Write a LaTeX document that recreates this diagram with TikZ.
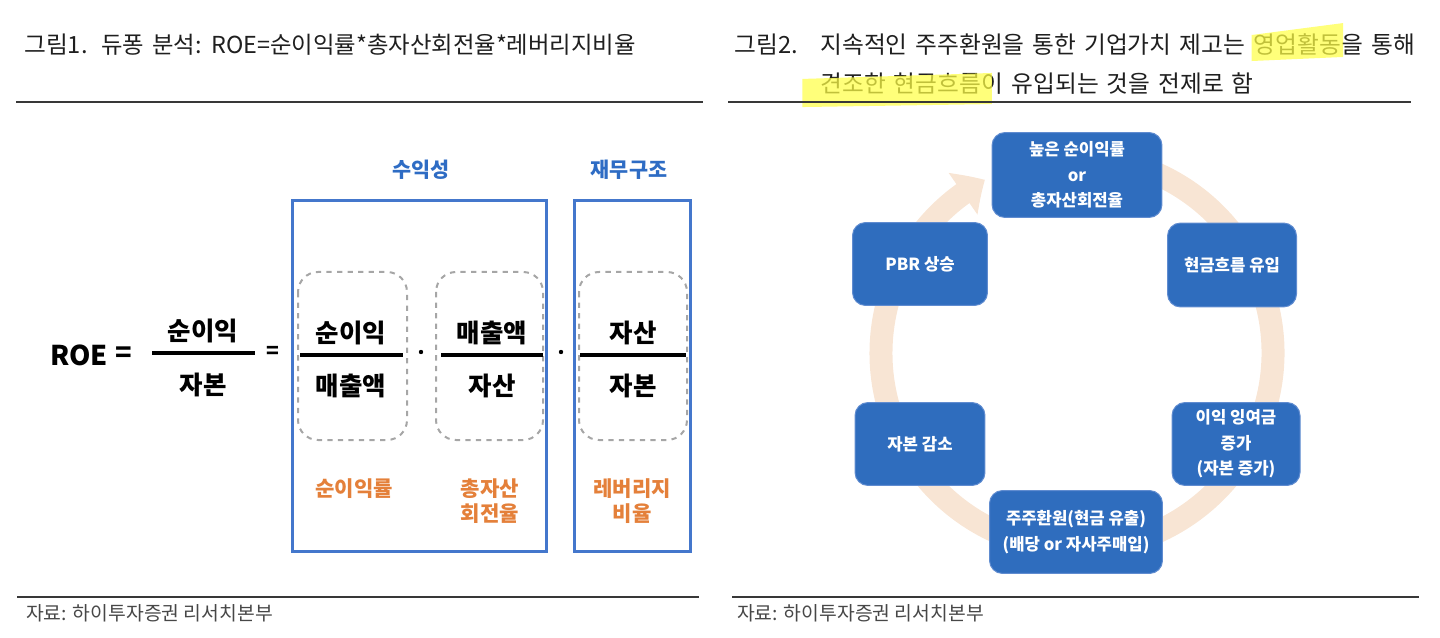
\documentclass[tikz,border=0pt]{standalone}
\usepackage{fontspec}
\setmainfont{Noto Sans CJK KR}
\newfontfamily\titlefont{Noto Sans CJK KR}[WordSpace=1.5]
\usetikzlibrary{arrows.meta,bending}

\definecolor{figFrame}{RGB}{68,119,204}
\definecolor{figHead} {RGB}{46,108,196}
\definecolor{figOrange}{RGB}{228,128,58}
\definecolor{figDash} {RGB}{166,166,166}
\definecolor{figBox}  {RGB}{47,109,190}
\definecolor{figEdge} {RGB}{96,140,208}
\definecolor{figRing} {RGB}{248,229,212}
\definecolor{figMark} {RGB}{255,255,70}
\colorlet{figRule}{black!78}
\colorlet{figText}{black!88}

\begin{document}
\begin{tikzpicture}[x=0.02cm, y=-0.02cm,
        ttl/.style={anchor=base west, inner sep=0pt, figText,
              font=\titlefont\fontsize{13.5}{16}\selectfont}]
        \useasboundingbox (0,0) rectangle (1440,638);
        % titles and rules
        \node[ttl] (fig1) at (24,54){그림1.};
        \node[ttl, font=\titlefont\fontsize{13.3}{16}\selectfont]
              (title1) at (101,54){듀퐁 분석: ROE=순이익률*총자산회전율*레버리지비율};
        \node[ttl] (fig2) at (734,54){그림2.};
        \node[ttl] (title2a) at (820,54){지속적인 주주환원을 통한 기업가치 제고는};
        \node[ttl] (mark1) at ([xshift=4.5pt]title2a.base east){영업활동};
        \node[ttl] (title2b) at (mark1.base east){을 통해};
        \node[ttl] (mark2) at (820,93){견조한 현금흐름};
        \node[ttl] (title2c) at (mark2.base east){이 유입되는 것을 전제로 함};
        \fill[figMark, opacity=0.72]
              ([xshift=-1pt, yshift=10.8pt]mark1.base west)
              --([xshift=1pt, yshift=17.6pt]mark1.base east)
              --([xshift=1pt, yshift=-1.7pt]mark1.base east)
              --([xshift=-1pt, yshift=-4pt]mark1.base west)--cycle;
        \fill[figMark, opacity=0.72]
              ([xshift=-10pt, yshift=8pt]mark2.base west)
              --([xshift=6pt, yshift=11.4pt]mark2.base east)
              --([xshift=6pt, yshift=-6.3pt]mark2.base east)
              --([xshift=-10pt, yshift=-8pt]mark2.base west)--cycle;
        \draw[figRule, line width=0.05cm](16,102)--(703,102);
        \draw[figRule, line width=0.05cm](728,102)--(1411,102);
        \draw[figRule, line width=0.05cm](17,597)--(699,597);
        \draw[figRule, line width=0.05cm](732,597)--(1419,597);
        \node[anchor=west, black!72, font=\fontsize{11}{13}\selectfont]
              (src1) at (20,613){자료: 하이투자증권 리서치본부};
        \node[anchor=west, black!72, font=\fontsize{11}{13}\selectfont]
              (src2) at (731,613){자료: 하이투자증권 리서치본부};

        % left: DuPont
        \draw[figFrame, line width=0.06cm](292,201) rectangle (546,551);
        \draw[figFrame, line width=0.06cm](574,201) rectangle (690,551);
        \draw[figDash, dashed, line width=0.04cm, rounded corners=0.4cm]
              (298,272) rectangle (407,440);
        \draw[figDash, dashed, line width=0.04cm, rounded corners=0.4cm]
              (436,272) rectangle (543,440);
        \draw[figDash, dashed, line width=0.04cm, rounded corners=0.4cm]
              (579,272) rectangle (687,440);
        \node[figHead, font=\fontsize{11.8}{14}\selectfont\bfseries]
              (profit) at (421,170){수익성};
        \node[figHead, font=\fontsize{11.8}{14}\selectfont\bfseries]
              (finance) at (629,170){재무구조};
        \node[font=\fontsize{15.5}{18}\selectfont\bfseries] (roe) at (79,355){ROE};
        \node[font=\fontsize{15.5}{18}\selectfont\bfseries] (eq1) at (124,355){=};
        \node[font=\fontsize{14.5}{17}\selectfont\bfseries] (num0) at (203,331){순이익};
        \node[font=\fontsize{14.5}{17}\selectfont\bfseries] (den0) at (203,385){자본};
        \draw[line width=0.08cm](152,353)--(255,353);
        \node[font=\fontsize{12}{14}\selectfont\bfseries] (eq2) at (273,352){=};
        \node[font=\fontsize{14.5}{17}\selectfont\bfseries] (num1) at (351,333){순이익};
        \node[font=\fontsize{14.5}{17}\selectfont\bfseries] (den1) at (351,386){매출액};
        \draw[line width=0.08cm](300,355)--(403,355);
        \node[font=\fontsize{14.5}{17}\selectfont\bfseries] (num2) at (492,333){매출액};
        \node[font=\fontsize{14.5}{17}\selectfont\bfseries] (den2) at (492,386){자산};
        \draw[line width=0.08cm](441,355)--(543,355);
        \node[font=\fontsize{14.5}{17}\selectfont\bfseries] (num3) at (633,333){자산};
        \node[font=\fontsize{14.5}{17}\selectfont\bfseries] (den3) at (633,386){자본};
        \draw[line width=0.08cm](580,355)--(686,355);
        \fill (421,352) circle (2.2);
        \fill (561,352) circle (2.2);
        \node[figOrange, font=\fontsize{12}{14}\selectfont\bfseries]
              (margin) at (354,489){순이익률};
        \node[figOrange, align=center, font=\fontsize{12}{14.3}\selectfont\bfseries]
              (turnover) at (490,501){총자산\\회전율};
        \node[figOrange, align=center, font=\fontsize{12}{14.3}\selectfont\bfseries]
              (leverage) at (632,501){레버리지\\비율};

        % right: cycle
        \draw[figRing, line width=0.46cm, -{Triangle[width=0.98cm, length=0.52cm, bend]}]
              (1077,353) ++(-80:196) arc[start angle=-80, end angle=242, radius=196];
        \tikzset{cyc/.style={fill=figBox, draw=figEdge, line width=0.02cm,
              rounded corners=0.26cm, text=white, align=center,
              font=\fontsize{9.5}{14.6}\selectfont\bfseries, inner sep=0pt}}
        \node[cyc, minimum width=3.4cm, minimum height=1.7cm]
              (roa) at (1077,175){높은 순이익률\\or\\총자산회전율};
        \node[cyc, minimum width=2.58cm, minimum height=1.68cm]
              (cash) at (1232,265){현금흐름 유입};
        \node[cyc, minimum width=2.56cm, minimum height=1.66cm]
              (surplus) at (1236,444){이익 잉여금\\증가\\(자본 증가)};
        \node[cyc, minimum width=3.46cm, minimum height=1.66cm]
              (payout) at (1076,532){주주환원(현금 유출)\\(배당 or 자사주매입)};
        \node[cyc, minimum width=2.6cm, minimum height=1.66cm]
              (cut) at (920,444){자본 감소};
        \node[cyc, minimum width=2.7cm, minimum height=1.66cm]
              (pbr) at (920,264){PBR 상승};
      \end{tikzpicture}
\end{document}
